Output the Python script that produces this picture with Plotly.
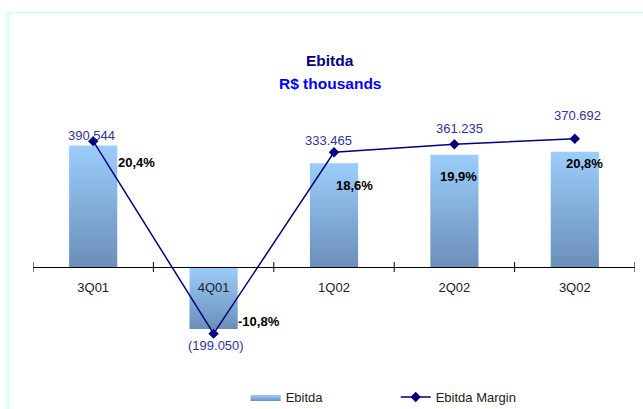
import plotly.graph_objects as go

# Quarterly EBITDA (R$ thousands) and EBITDA margin (%)
quarters = ["3Q01", "4Q01", "1Q02", "2Q02", "3Q02"]
ebitda = [390544, -199050, 333465, 361235, 370692]
margin = [20.4, -10.8, 18.6, 19.9, 20.8]

# label offsets in pixels (dx, dy) relative to each margin marker
value_offsets = [(-2, 6), (2, -12), (-6, 12), (5, 16), (3, 23)]
pct_offsets = [(43, -21), (45, 12), (20, -33), (4, -32), (10, -25)]

FONT = "Arial, Liberation Sans, sans-serif"
BAR_TOP = "#9ccdfb"
BAR_BOTTOM = "#6a8fb9"
LINE = "#000080"
HALF_W = 0.2

def fmt_value(v):
    s = f"{abs(v):,}".replace(",", ".")
    return f"({s})" if v < 0 else s

def fmt_pct(p):
    return f"{p:.1f}%".replace(".", ",")

fig = go.Figure()

# gradient-filled bars, one polygon per quarter
for i, v in enumerate(ebitda):
    fig.add_trace(go.Scatter(
        x=[i - HALF_W, i + HALF_W, i + HALF_W, i - HALF_W, i - HALF_W],
        y=[0, 0, v, v, 0],
        mode="lines",
        line=dict(width=0, color=BAR_BOTTOM),
        fill="toself",
        fillgradient=dict(type="vertical",
                          colorscale=[[0, BAR_BOTTOM], [1, BAR_TOP]],
                          start=min(0, v), stop=max(0, v)),
        name="Ebitda",
        legendgroup="ebitda",
        showlegend=(i == 0),
        hoverinfo="skip",
    ))

idx = list(range(len(quarters)))
fig.add_trace(go.Scatter(
    x=idx, y=margin, yaxis="y2",
    mode="lines+markers",
    line=dict(color=LINE, width=1.5),
    marker=dict(symbol="diamond", size=8, color=LINE),
    name="Ebitda Margin",
))

annotations = []
for i, (v, p) in enumerate(zip(ebitda, margin)):
    dx, dy = value_offsets[i]
    annotations.append(dict(
        x=i, y=p, xref="x", yref="y2", text=fmt_value(v), showarrow=False,
        xshift=dx, yshift=dy, xanchor="center", yanchor="middle",
        font=dict(family=FONT, size=13, color="#333399")))
    dx, dy = pct_offsets[i]
    annotations.append(dict(
        x=i, y=p, xref="x", yref="y2", text=f"<b>{fmt_pct(p)}</b>",
        showarrow=False, xshift=dx, yshift=dy, xanchor="center",
        yanchor="middle", font=dict(family=FONT, size=13, color="#000000")))

annotations.append(dict(
    x=0.4934, y=1.1506, xref="paper", yref="paper", text="<b>Ebitda</b>",
    showarrow=False, xanchor="center", yanchor="middle",
    font=dict(family=FONT, size=15.5, color="#000080")))
annotations.append(dict(
    x=0.4934, y=1.0656, xref="paper", yref="paper", text="<b>R$ thousands</b>",
    showarrow=False, xanchor="center", yanchor="middle",
    font=dict(family=FONT, size=15.5, color="#0000ff")))

# tick marks crossing the category axis at the boundaries
shapes = []
for b in range(len(quarters) + 1):
    shapes.append(dict(
        type="line", xref="x", yref="y", x0=b - 0.5, x1=b - 0.5,
        ysizemode="pixel", yanchor=0, y0=-5, y1=5,
        line=dict(color="#000000", width=1)))

# light frame around the chart
shapes.append(dict(
    type="rect", xref="paper", yref="paper",
    x0=-0.0415, x1=1.2, y0=-0.5, y1=1.338,
    line=dict(color="#c8ffff", width=1.5), fillcolor="rgba(0,0,0,0)",
    layer="below"))

fig.update_layout(
    width=643, height=409,
    margin=dict(l=33, r=8, t=100, b=50, autoexpand=False),
    paper_bgcolor="white", plot_bgcolor="white",
    font=dict(family=FONT, size=13, color="#222222"),
    xaxis=dict(
        range=[-0.5, len(quarters) - 0.5],
        tickvals=idx, ticktext=quarters,
        anchor="free", position=0.3552,
        showline=True, linecolor="#000000", linewidth=1,
        showgrid=False, zeroline=False, ticks="",
        ticklabelstandoff=8,
        tickfont=dict(family=FONT, size=13, color="#222222"),
    ),
    yaxis=dict(range=[-295780, 536900], visible=False, showgrid=False,
               zeroline=False),
    yaxis2=dict(range=[-14.91, 27.07], overlaying="y", visible=False,
                showgrid=False, zeroline=False),
    legend=dict(orientation="h", x=0.3533, y=-0.147, xanchor="left",
                yanchor="middle", entrywidth=105, entrywidthmode="pixels",
                font=dict(family=FONT, size=13, color="#222222"),
                bgcolor="rgba(0,0,0,0)"),
    annotations=annotations,
    shapes=shapes,
    showlegend=True,
)

fig.write_html("out.html")
